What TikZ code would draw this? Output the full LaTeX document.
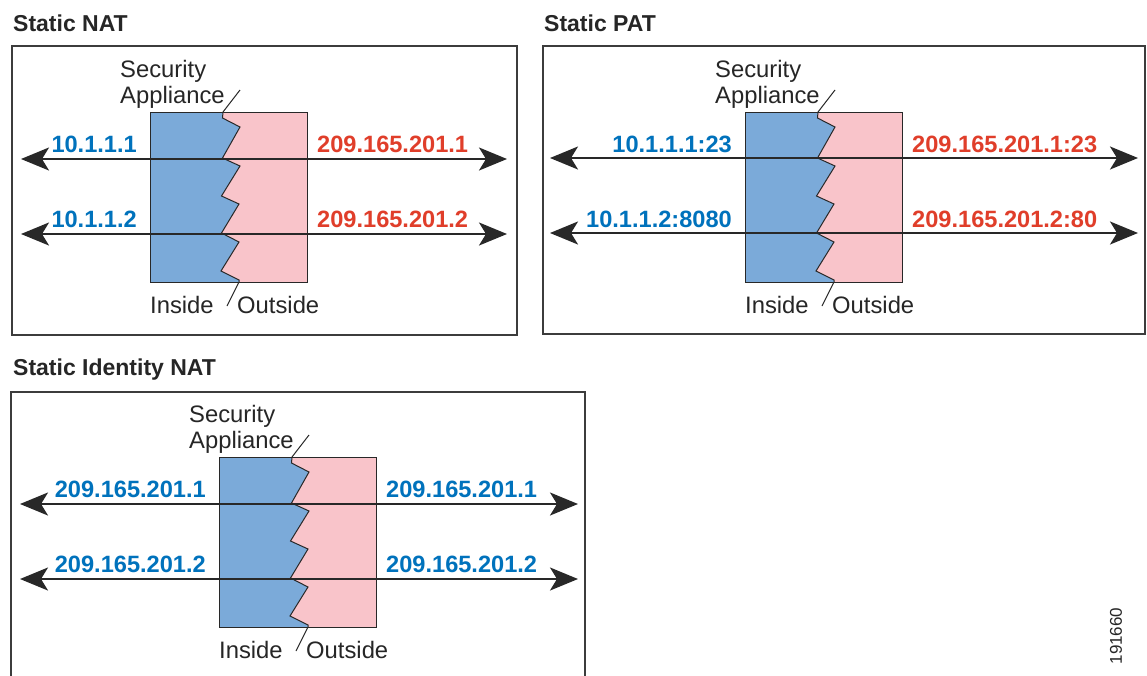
\documentclass[tikz,border=0pt]{standalone}
\usepackage{fontspec}
\setmainfont{Liberation Sans}
\usetikzlibrary{arrows.meta}
\definecolor{appblue}{RGB}{123,170,217}
\definecolor{apppink}{RGB}{249,196,202}
\definecolor{txtblue}{RGB}{0,114,188}
\definecolor{txtred}{RGB}{224,62,42}
\definecolor{linegray}{RGB}{40,40,40}
\definecolor{boxgray}{RGB}{60,60,60}
\tikzset{
  thinline/.style={draw=linegray, line width=1pt, line join=miter},
  framebox/.style={draw=boxgray, line width=2pt},
  biarrow/.style={draw=linegray, line width=2pt,
    {Stealth[length=28pt,width=23pt,inset=7pt]}-{Stealth[length=28pt,width=23pt,inset=7pt]}},
  plain/.style={inner sep=0pt, text=black!85, font=\fontsize{23.8}{26}\selectfont},
  lbl/.style={inner sep=0pt, font=\fontsize{23.6}{26}\selectfont\bfseries},
  ttl/.style={inner sep=0pt, anchor=base west, text=black!85, font=\fontsize{23}{26}\selectfont\bfseries},
}
\newcommand\appliance[1]{%
  \fill[appblue] (0,0) -- (73,0) -- (72.5,6) -- (90,15) -- (72.5,46) -- (90,54) -- (71.5,84) -- (89,92) -- (71.5,121) -- (89,130) -- (71,159) -- (89,168) -- (89,170) -- (0,170) -- cycle;
  \fill[apppink] (157,0) -- (73,0) -- (72.5,6) -- (90,15) -- (72.5,46) -- (90,54) -- (71.5,84) -- (89,92) -- (71.5,121) -- (89,130) -- (71,159) -- (89,168) -- (89,170) -- (157,170) -- cycle;
  \draw[thinline] (0,0) rectangle (157,170);
  \coordinate (#1zt) at (73,0);
  \coordinate (#1zb) at (89,170);
  \draw[thinline] (#1zt) -- (72.5,6) -- (90,15) -- (72.5,46) -- (90,54) -- (71.5,84) -- (89,92) -- (71.5,121) -- (89,130) -- (71,159) -- (89,168) -- (#1zb);
  \coordinate (#1lt) at (90,-22);
  \coordinate (#1lb) at (77,194);
  \draw[thinline] (#1lt) -- (#1zt);
  \draw[thinline] (#1zb) -- (#1lb);
  \node[plain, anchor=base west] (#1sec) at (-30,-35) {Security};
  \node[plain, anchor=base west] (#1app) at (-30,-9) {Appliance};
  \node[plain, anchor=base west] (#1ins) at (0,201) {Inside};
  \node[plain, anchor=base west] (#1out) at (87,201) {Outside};
}
\begin{document}
\begin{tikzpicture}[x=1pt, y=-1pt]
\useasboundingbox (0,0) rectangle (1147,675);
\fill[white] (0,0) rectangle (1147,675);

% titles
\node[ttl] (t1) at (13,31) {Static NAT};
\node[ttl] (t2) at (544,31) {Static PAT};
\node[ttl] (t3) at (13,375) {Static Identity NAT};

% frames
\draw[framebox] (12,46) rectangle (517,335);
\draw[framebox] (543,46) rectangle (1145,334);
\draw[framebox] (11,680) -- (11,392) -- (585,392) -- (585,680);

% panel 1: Static NAT
\begin{scope}[shift={(150,112)}]
  \appliance{a}
  \coordinate (a1l) at (-129,47); \coordinate (a1r) at (357,47);
  \coordinate (a2l) at (-129,122); \coordinate (a2r) at (357,122);
  \draw[biarrow] (a1l) -- (a1r);
  \draw[biarrow] (a2l) -- (a2r);
  \node[lbl, text=txtblue, anchor=base east] (a1in) at (-13,40) {10.1.1.1};
  \node[lbl, text=txtblue, anchor=base east] (a2in) at (-13,115) {10.1.1.2};
  \node[lbl, text=txtred, anchor=base west] (a1out) at (167,40) {209.165.201.1};
  \node[lbl, text=txtred, anchor=base west] (a2out) at (167,115) {209.165.201.2};
\end{scope}

% panel 2: Static PAT
\begin{scope}[shift={(745,112)}]
  \appliance{b}
  \coordinate (b1l) at (-195,46); \coordinate (b1r) at (393,46);
  \coordinate (b2l) at (-195,121); \coordinate (b2r) at (393,121);
  \draw[biarrow] (b1l) -- (b1r);
  \draw[biarrow] (b2l) -- (b2r);
  \node[lbl, text=txtblue, anchor=base east] (b1in) at (-13,40) {10.1.1.1:23};
  \node[lbl, text=txtblue, anchor=base east] (b2in) at (-13,115) {10.1.1.2:8080};
  \node[lbl, text=txtred, anchor=base west] (b1out) at (167,40) {209.165.201.1:23};
  \node[lbl, text=txtred, anchor=base west] (b2out) at (167,115) {209.165.201.2:80};
\end{scope}

% panel 3: Static Identity NAT
\begin{scope}[shift={(219,457)}]
  \appliance{c}
  \coordinate (c1l) at (-199,47); \coordinate (c1r) at (359,47);
  \coordinate (c2l) at (-199,122); \coordinate (c2r) at (359,122);
  \draw[biarrow] (c1l) -- (c1r);
  \draw[biarrow] (c2l) -- (c2r);
  \node[lbl, text=txtblue, anchor=base east] (c1in) at (-13,40) {209.165.201.1};
  \node[lbl, text=txtblue, anchor=base east] (c2in) at (-13,115) {209.165.201.2};
  \node[lbl, text=txtblue, anchor=base west] (c1out) at (167,40) {209.165.201.1};
  \node[lbl, text=txtblue, anchor=base west] (c2out) at (167,115) {209.165.201.2};
\end{scope}

\node[inner sep=0pt, rotate=90, text=black!85, font=\fontsize{17}{19}\selectfont] (figno) at (1116,636) {191660};
\end{tikzpicture}
\end{document}
